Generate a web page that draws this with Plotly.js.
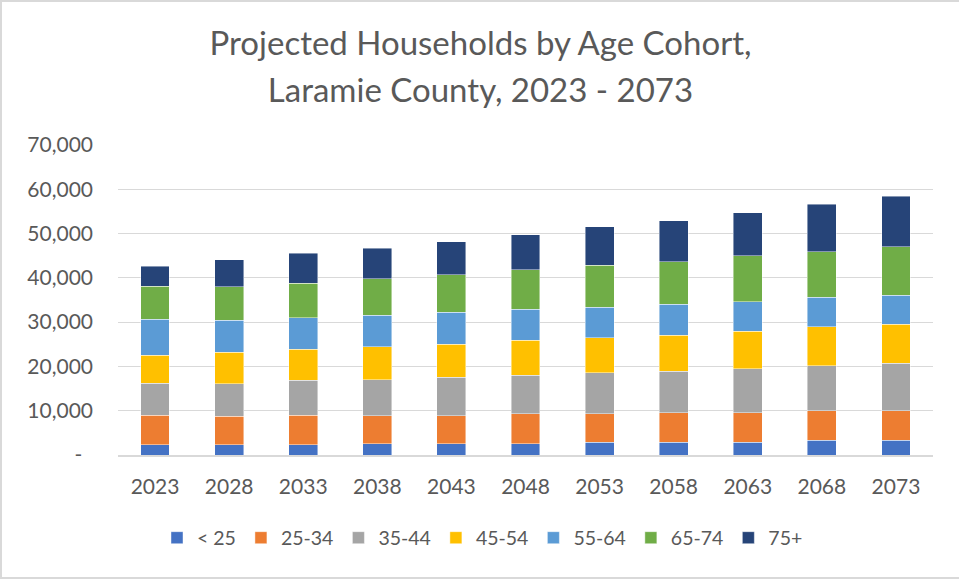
<!DOCTYPE html>
<html>
<head>
<meta charset="utf-8">
<script src="https://cdn.plot.ly/plotly-3.0.1.min.js"></script>
<style>
  html, body { margin: 0; padding: 0; background: #fff; }
  #chart { position: absolute; left: 0; top: 0; width: 957px; height: 575px;
           border-left: 2px solid #d9d9d9; border-top: 2px solid #d9d9d9; border-bottom: 2px solid #d9d9d9; }
</style>
</head>
<body>
<div id="chart"></div>
<script>
const years = ["2023","2028","2033","2038","2043","2048","2053","2058","2063","2068","2073"];
const seriesNames = ["< 25","25-34","35-44","45-54","55-64","65-74","75+"];
const under25  = [2300,2300,2300,2500,2500,2500,2900,2900,2900,3300,3300];
const age25_34 = [6650,6400,6650,6350,6350,6800,6450,6650,6650,6650,6650];
const age35_44 = [7200,7400,7950,8150,8750,8700,9200,9350,9950,10200,10750];
const age45_54 = [6400,7150,6950,7400,7400,7950,7950,8150,8450,8850,8850];
const age55_64 = [8100,7200,7150,7200,7200,6950,6900,6950,6650,6650,6550];
const age65_74 = [7400,7550,7800,8150,8450,8900,9450,9650,10350,10200,10950];
const age75p   = [4550,6050,6800,6950,7550,7950,8700,9300,9700,10750,11350];
const yTickVals = [0,10000,20000,30000,40000,50000,60000,70000];
const yTickText = ["-\u00a0\u00a0","10,000","20,000","30,000","40,000","50,000","60,000","70,000"];

const colors = ["#4472C4","#ED7D31","#A5A5A5","#FFC000","#5B9BD5","#70AD47","#264478"];
const allSeries = [under25, age25_34, age35_44, age45_54, age55_64, age65_74, age75p];

const traces = allSeries.map((vals, i) => ({
  type: "bar",
  name: seriesNames[i],
  x: years,
  y: vals,
  marker: { color: colors[i], line: { color: "rgba(255,255,255,0.55)", width: 0.8 } },
  hoverinfo: "x+y+name"
}));

const txt = "#595959";
const layout = {
  width: 957, height: 575,
  paper_bgcolor: "#fff", plot_bgcolor: "#fff",
  barmode: "stack",
  bargap: 0.61,
  font: { family: "Lato, 'Open Sans', sans-serif", color: txt, size: 20 },
  margin: { l: 116, r: 26, t: 143, b: 122, pad: 0 },
  title: {
    text: "<span style='font-size:33px'>Projected Households by Age Cohort,</span><br><span style='font-size:33px'>Laramie County, 2023 - 2073</span>",
    font: { family: "Lato, sans-serif", size: 36, color: txt },
    x: 0.5, xref: "container", xanchor: "center",
    y: 1 - 53/575, yref: "container", yanchor: "top"
  },
  xaxis: {
    type: "category",
    tickfont: { size: 21, color: txt },
    showgrid: false, zeroline: false,
    showline: true, linecolor: "#d9d9d9", linewidth: 1.5,
    ticks: "", ticklabelstandoff: 12
  },
  yaxis: {
    range: [0, 70000],
    tickvals: yTickVals, ticktext: yTickText,
    tickfont: { size: 21, color: txt },
    showgrid: true, gridcolor: "#d9d9d9", gridwidth: 1.3,
    zeroline: false, showline: false,
    ticks: "", ticklabelstandoff: 24
  },
  showlegend: true,
  legend: {
    orientation: "h", traceorder: "normal",
    xref: "container", yref: "container",
    x: 155/957, xanchor: "left",
    y: 1 - 536/575, yanchor: "middle",
    font: { size: 19.5, color: txt },
    itemclick: false, itemdoubleclick: false
  }
};

Plotly.newPlot("chart", traces, layout, { displayModeBar: false, staticPlot: false });
</script>
</body>
</html>
